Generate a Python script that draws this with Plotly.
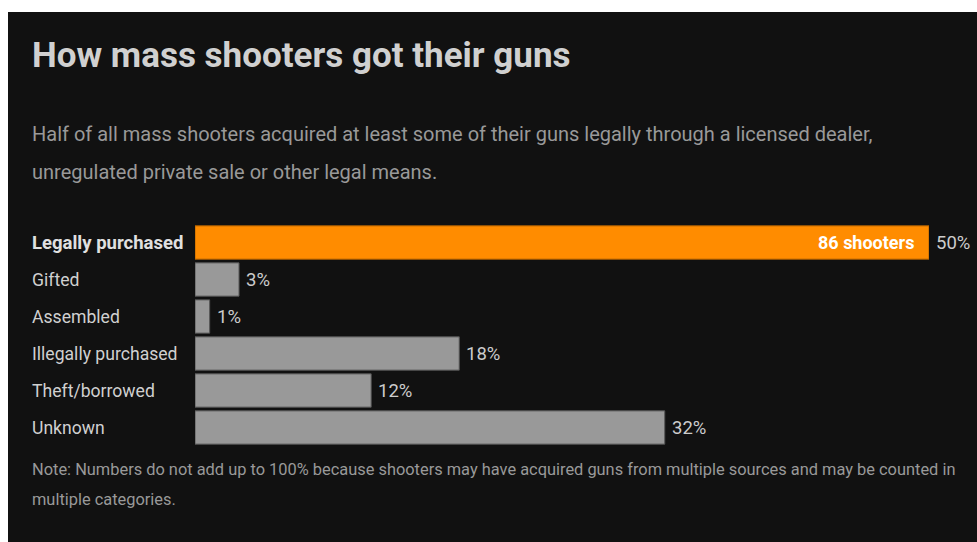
import plotly.graph_objects as go

categories = ["Legally purchased", "Gifted", "Assembled", "Illegally purchased", "Theft/borrowed", "Unknown"]
percents = [50, 3, 1, 18, 12, 32]
value_labels = ["50%", "3%", "1%", "18%", "12%", "32%"]
highlight_label = "86 shooters"
title = "How mass shooters got their guns"
subtitle_lines = ["Half of all mass shooters acquired at least some of their guns legally through a licensed dealer,",
                  "unregulated private sale or other legal means."]
note_lines = ["Note: Numbers do not add up to 100% because shooters may have acquired guns from multiple sources and may be counted in",
              "multiple categories."]

W, H = 977, 542
# plot area in page pixel coordinates
PL, PR, PT, PB = 195, 929, 224, 446
L, R, T, B = PL, W - PR, PT, H - PB
PW, PH = PR - PL, PB - PT
FONT = "Roboto, sans-serif"

def px(x):
    return (x - PL) / PW

def py(y):
    return (PB - y) / PH

colors = ["#ff8c00" if i == 0 else "#999999" for i in range(len(categories))]
line_colors = ["#b36200" if i == 0 else "#555555" for i in range(len(categories))]

fig = go.Figure(go.Bar(
    x=percents, y=categories, orientation="h",
    marker=dict(color=colors, line=dict(color=line_colors, width=1)),
    hoverinfo="skip",
))

annotations = []
for cat, v, lab in zip(categories, percents, value_labels):
    annotations.append(dict(x=v, y=cat, xref="x", yref="y", text=lab, showarrow=False,
                            xanchor="left", xshift=5, font=dict(family=FONT, size=18.5, color="#cccccc")))
for i, cat in enumerate(categories):
    txt = f"<b>{cat}</b>" if i == 0 else cat
    annotations.append(dict(x=px(30), y=cat, xref="paper", yref="y", text=txt, showarrow=False,
                            xanchor="left", font=dict(family=FONT, size=18.5 if i == 0 else 17.6,
                                                      color="#e0e0e0" if i == 0 else "#d0d0d0")))
annotations.append(dict(x=percents[0], y=categories[0], xref="x", yref="y", text=f"<b>{highlight_label}</b>",
                        showarrow=False, xanchor="right", xshift=-13,
                        font=dict(family=FONT, size=18, color="#ffffff")))
annotations.append(dict(x=px(30), y=py(55), xref="paper", yref="paper", text=f"<b>{title}</b>",
                        showarrow=False, xanchor="left", yanchor="middle",
                        font=dict(family=FONT, size=35, color="#d0d0d0")))
for yy, line in zip([134, 172], subtitle_lines):
    annotations.append(dict(x=px(30), y=py(yy), xref="paper", yref="paper", text=line,
                            showarrow=False, xanchor="left", yanchor="middle",
                            font=dict(family=FONT, size=20, color="#999999")))
for yy, line in zip([469, 499], note_lines):
    annotations.append(dict(x=px(30), y=py(yy), xref="paper", yref="paper", text=line,
                            showarrow=False, xanchor="left", yanchor="middle",
                            font=dict(family=FONT, size=16.4, color="#999999")))

fig.update_layout(
    width=W, height=H,
    margin=dict(l=L, r=R, t=T, b=B, pad=0),
    paper_bgcolor="#ffffff", plot_bgcolor="rgba(0,0,0,0)",
    bargap=0.1, showlegend=False,
    xaxis=dict(range=[0, 50], visible=False, fixedrange=True),
    yaxis=dict(categoryorder="array", categoryarray=categories[::-1], visible=False, fixedrange=True),
    annotations=annotations,
    shapes=[dict(type="rect", xref="paper", yref="paper", x0=px(8), x1=px(W + 20), y0=py(H + 20), y1=py(12),
                 fillcolor="#111111", line=dict(width=0), layer="below")],
)

fig.write_html("out.html", config={"displayModeBar": False},
               post_script="document.body.style.margin='0';document.documentElement.style.overflow='hidden';")
